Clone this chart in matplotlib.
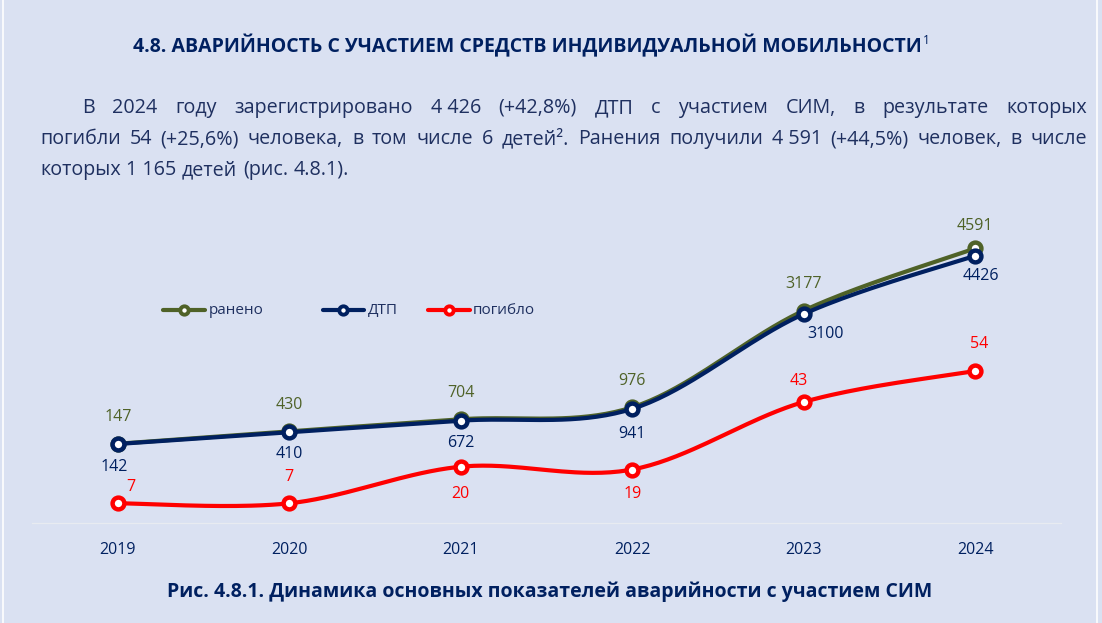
import matplotlib
matplotlib.use("Agg")
import matplotlib.pyplot as plt
from matplotlib.lines import Line2D
import numpy as np

plt.rcParams['font.family'] = ['Open Sans', 'DejaVu Sans']

# data
years = ["2019", "2020", "2021", "2022", "2023", "2024"]
injured = [147, 430, 704, 976, 3177, 4591]     # ранено
accidents = [142, 410, 672, 941, 3100, 4426]   # ДТП
killed = [7, 7, 20, 19, 43, 54]                # погибло

title = "4.8. АВАРИЙНОСТЬ С УЧАСТИЕМ СРЕДСТВ ИНДИВИДУАЛЬНОЙ МОБИЛЬНОСТИ"
para_lines = [
    ["В", "2024", "году", "зарегистрировано", "4 426", "(+42,8%)", "ДТП", "с", "участием",
     "СИМ,", "в", "результате", "которых"],
    ["погибли", "54", "(+25,6%)", "человека,", "в", "том", "числе", "6", "детей².", "Ранения",
     "получили", "4 591", "(+44,5%)", "человек,", "в", "числе"],
    ["которых", "1 165", "детей", "(рис.", "4.8.1)."],
]
caption = "Рис. 4.8.1. Динамика основных показателей аварийности с участием СИМ"

BG = "#dae1f2"
NAVY = "#002060"
GREEN = "#4f6228"
RED = "#ff0000"
TXT = "#1f3060"

W, H = 1102, 623


def fx(px):
    return px / W


def fy(py):
    return 1 - py / H


def smooth(ys, n=40):
    # bezier smoothing like office "smoothed line"
    xs = np.arange(len(ys), dtype=float)
    p = np.column_stack([xs, np.asarray(ys, dtype=float)])
    out = []
    for i in range(len(p) - 1):
        p0 = p[i - 1] if i > 0 else p[i]
        p1, p2 = p[i], p[i + 1]
        p3 = p[i + 2] if i + 2 < len(p) else p[i + 1]
        c1 = p1 + (p2 - p0) / 6
        c2 = p2 - (p3 - p1) / 6
        t = np.linspace(0, 1, n)[:, None]
        seg = (1 - t) ** 3 * p1 + 3 * (1 - t) ** 2 * t * c1 + 3 * (1 - t) * t ** 2 * c2 + t ** 3 * p2
        out.append(seg if i == 0 else seg[1:])
    seg = np.vstack(out)
    return seg[:, 0], seg[:, 1]


fig = plt.figure(figsize=(W / 100, H / 100), dpi=100, facecolor=BG)
renderer = fig.canvas.get_renderer()

# white frame lines left / right
fig.add_artist(Line2D([fx(2.5)] * 2, [0, 1], transform=fig.transFigure, color="white", lw=1.2))
fig.add_artist(Line2D([fx(1096.7)] * 2, [0, 1], transform=fig.transFigure, color="white", lw=1.2))


def fit_text(x, y, s, width, **kw):
    t = fig.text(fx(x), fy(y), s, fontsize=12, **kw)
    w = t.get_window_extent(renderer).width
    t.set_fontsize(12 * width / w)
    return t


# title + caption
t = fit_text(133, 46, title, 815, ha="left", va="center", weight="bold", color=NAVY)
t.set_fontsize(min(t.get_fontsize(), 14))
bb = t.get_window_extent(renderer)
fig.text(bb.x1 / W + 0.001, fy(40), "1", fontsize=8.5, color=NAVY, ha="left", va="center")

cap = fit_text(163, 592, caption, 774, ha="left", va="center", weight="bold", color=NAVY)
cap.set_fontsize(min(cap.get_fontsize(), 14))
cb = cap.get_window_extent(renderer)
cap.set_x(fx(550 - cb.width / 2))

# justified paragraph
PFS = 14.2
line_y = [108, 139, 170]
line_x0 = [82, 40, 40]
x_right = 1087
for k, words in enumerate(para_lines):
    texts = [fig.text(0, fy(line_y[k]), w, fontsize=PFS, color=TXT, ha="left", va="center")
             for w in words]
    widths = [tt.get_window_extent(renderer).width for tt in texts]
    if k < len(para_lines) - 1:
        gap = (x_right - line_x0[k] - sum(widths)) / (len(words) - 1)
    else:
        gap = 5.5
    x = line_x0[k]
    for tt, w in zip(texts, widths):
        tt.set_x(fx(x))
        x += w + gap

# chart area
ax = fig.add_axes([fx(32), fy(523), fx(1061) - fx(32), (523 - 185) / H])
ax.set_facecolor("none")
ax2 = ax.twinx()
for a in (ax, ax2):
    for s in a.spines.values():
        s.set_visible(False)
    a.set_yticks([])
ax.spines["bottom"].set_visible(True)
ax.spines["bottom"].set_color("#e8ebf1")
ax.spines["bottom"].set_linewidth(0.9)

x = np.arange(len(years))
ax.set_xlim(-0.5, len(years) - 0.5)
ax.set_ylim(-1656, 6034)
ax2.set_ylim(0, 120.07)
ax.set_xticks(x)
ax.set_xticklabels(years)
ax.tick_params(axis="x", length=0, pad=14, labelsize=11.5, labelcolor=NAVY)

mk = dict(marker="o", markersize=8.5, markeredgewidth=3.2, markerfacecolor="white", linestyle="none")

sx, sy = smooth(injured)
ax.plot(sx, sy, color=GREEN, lw=3, solid_capstyle="round", zorder=2)
ax.plot(x, injured, markeredgecolor=GREEN, zorder=3, **mk)
sx, sy = smooth(accidents)
ax.plot(sx, sy, color=NAVY, lw=3, solid_capstyle="round", zorder=4)
ax.plot(x, accidents, markeredgecolor=NAVY, zorder=5, **mk)
sx, sy = smooth(killed)
ax2.plot(sx, sy, color=RED, lw=3, solid_capstyle="round", zorder=2)
ax2.plot(x, killed, markeredgecolor=RED, zorder=3, **mk)

# data labels (offsets in pixels)
off_inj = [(0, 27), (0, 26), (0, 26), (0, 26), (0, 27), (0, 22)]
off_acc = [(-4, -23), (0, -22), (0, -22), (0, -25), (22, -20), (6, -20)]
off_kil = [(13, 16), (0, 26), (0, -27), (0, -24), (-5, 21), (4, 27)]
LFS = 11.5
for i in range(len(years)):
    ax.annotate(str(injured[i]), (x[i], injured[i]), xytext=off_inj[i], textcoords="offset pixels",
                ha="center", va="center", fontsize=LFS, color=GREEN, zorder=6)
    ax.annotate(str(accidents[i]), (x[i], accidents[i]), xytext=off_acc[i], textcoords="offset pixels",
                ha="center", va="center", fontsize=LFS, color=NAVY, zorder=6)
    ax2.annotate(str(killed[i]), (x[i], killed[i]), xytext=off_kil[i], textcoords="offset pixels",
                 ha="center", va="center", fontsize=LFS, color=RED, zorder=6)

# legend drawn by hand
leg = [("ранено", GREEN, 163, 205, 184, 209),
       ("ДТП", NAVY, 323, 364, 343, 368),
       ("погибло", RED, 428, 470, 449, 473)]
ly = 310
for name, c, a0, a1, m, tx in leg:
    fig.add_artist(Line2D([fx(a0), fx(a1)], [fy(ly)] * 2, transform=fig.transFigure,
                          color=c, lw=3, solid_capstyle="round"))
    fig.add_artist(Line2D([fx(m)], [fy(ly)], transform=fig.transFigure, marker="o",
                          markersize=6, markeredgewidth=2.8, markeredgecolor=c,
                          markerfacecolor="white"))
    fig.text(fx(tx), fy(ly), name, fontsize=11, color=TXT, ha="left", va="center")

fig.savefig("out.png", dpi=100, facecolor=BG)
